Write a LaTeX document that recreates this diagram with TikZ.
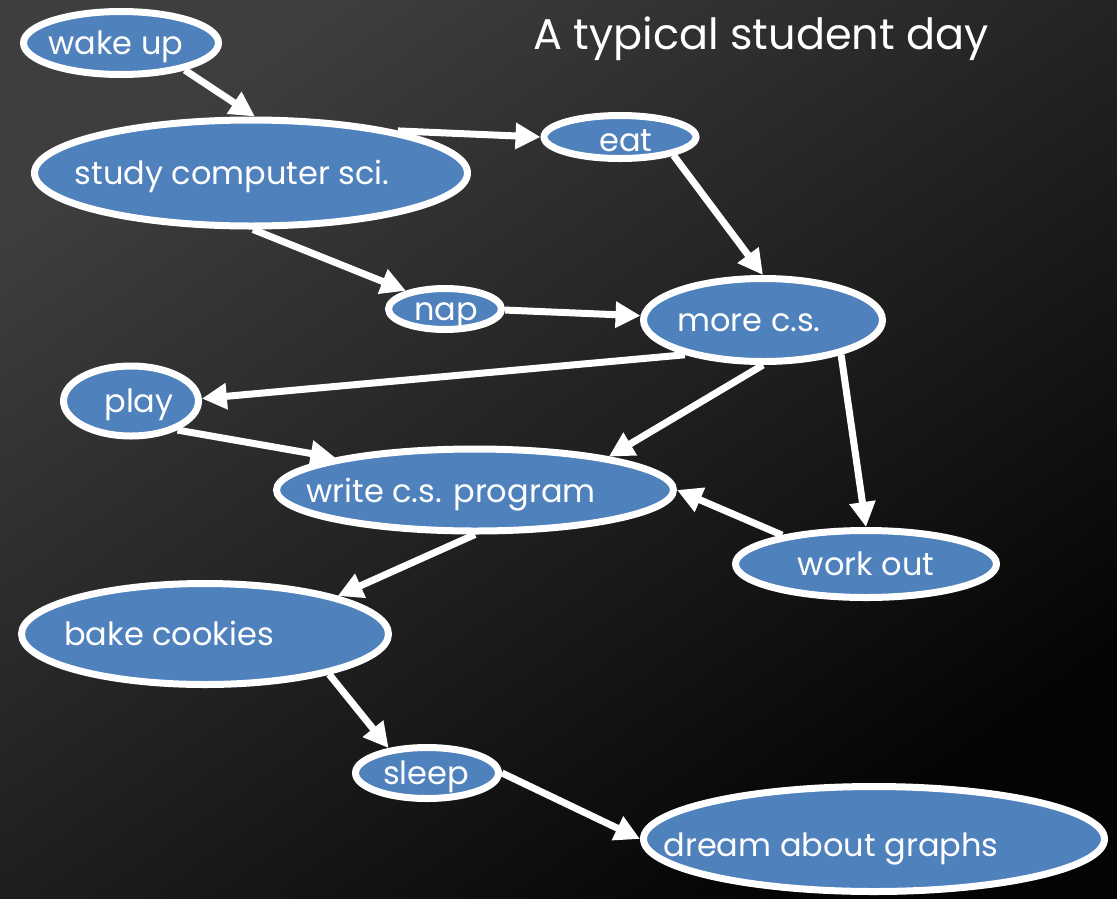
\documentclass[tikz,border=0pt]{standalone}
\usepackage{fontspec}
\setmainfont{Poppins}
\usetikzlibrary{arrows.meta,shapes.geometric}
\definecolor{bgtop}{HTML}{3E3E3E}
\definecolor{bgbot}{HTML}{040404}
\definecolor{nodeblue}{HTML}{4F81BD}
\tikzset{
  x=1pt, y=1pt,
  state/.style={ellipse, draw=white, line width=7pt, fill=nodeblue, inner sep=0pt},
  statetext/.style={text=white, font=\fontsize{32}{37}\selectfont, inner sep=0pt, anchor=base},
  flow/.style={draw=white, line width=7pt, -{Triangle[length=25pt,width=25pt]}},
}
\begin{document}
\begin{tikzpicture}
% background
\shade[shading=axis, top color=bgtop, bottom color=bgbot, shading angle=35]
  (0,0) rectangle (1117,-898);
\useasboundingbox (0,0) rectangle (1117,-898);

\node[text=white, font=\fontsize{43}{49}\selectfont, anchor=base] (title) at (761,-49) {A typical student day};

% states (size = outer extent minus line width)
\node[state, minimum width=195pt, minimum height=63pt]  (wake)  at (121,-43)  {};
\node[state, minimum width=433pt, minimum height=106pt] (study) at (251,-173) {};
\node[state, minimum width=152pt, minimum height=43pt]  (eat)   at (620,-137) {};
\node[state, minimum width=113pt, minimum height=41pt]  (nap)   at (445,-309) {};
\node[state, minimum width=239pt, minimum height=83pt]  (more)  at (763,-320) {};
\node[state, minimum width=135pt, minimum height=70pt]  (play)  at (131,-401) {};
\node[state, minimum width=397pt, minimum height=82pt]  (write) at (475,-490) {};
\node[state, minimum width=261pt, minimum height=67pt]  (work)  at (866,-564) {};
\node[state, minimum width=367pt, minimum height=101pt] (bake)  at (205,-634) {};
\node[state, minimum width=143pt, minimum height=51pt]  (sleep) at (427,-773) {};
\node[state, minimum width=461pt, minimum height=105pt] (dream) at (874,-839) {};

% labels
\node[statetext] (wake-t)  at (116,-54)  {wake up};
\node[statetext] (study-t) at (232,-184) {study computer sci.};
\node[statetext] (eat-t)   at (626,-151) {eat};
\node[statetext] (nap-t)   at (446,-320) {nap};
\node[statetext] (more-t)  at (749,-331) {more c.s.};
\node[statetext] (play-t)  at (139,-412) {play};
\node[statetext] (write-t) at (451,-502) {write c.s. program};
\node[statetext] (work-t)  at (866,-575) {work out};
\node[statetext] (bake-t)  at (169,-645) {bake cookies};
\node[statetext] (sleep-t) at (426,-784) {sleep};
\node[statetext] (dream-t) at (831,-856) {dream about graphs};

% transitions
\draw[flow] (wake.-23)  -- (study.86);
\draw[flow] (study.16)  -- (eat.180);
\draw[flow] (study.-88) -- (nap.155);
\draw[flow] (eat.-19)   -- (more.90);
\draw[flow] (nap.-1)    -- (more.178);
\draw[flow] (more.204)  -- (play.2);
\draw[flow] (more.270)  -- (write.14);
\draw[flow] (more.-24)  -- (work.90);
\draw[flow] (play.-32)  -- (write.167);
\draw[flow] (work.161)  -- (write.0);
\draw[flow] (write.270) -- (bake.16);
\draw[flow] (bake.-18)  -- (sleep.147);
\draw[flow] (sleep.0)   -- (dream.180);
\end{tikzpicture}
\end{document}
